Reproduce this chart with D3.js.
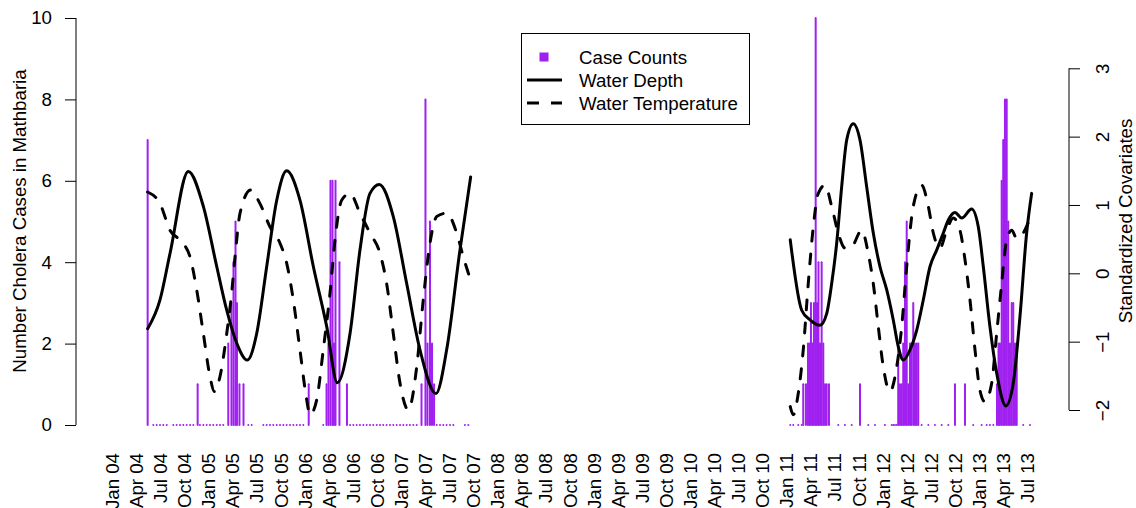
<!DOCTYPE html>
<html>
<head>
<meta charset="utf-8">
<script src="https://cdn.jsdelivr.net/npm/d3@7"></script>
<style>
  body { margin: 0; background: #fff; }
  svg { display: block; font-family: "Liberation Sans", Arial, sans-serif; }
</style>
</head>
<body>
<div id="chart"></div>
<script>
// labels for every quarter on the time axis
var quarterLabels = [
    "Jan 04", "Apr 04", "Jul 04", "Oct 04", "Jan 05", "Apr 05", "Jul 05", "Oct 05",
    "Jan 06", "Apr 06", "Jul 06", "Oct 06", "Jan 07", "Apr 07", "Jul 07", "Oct 07",
    "Jan 08", "Apr 08", "Jul 08", "Oct 08", "Jan 09", "Apr 09", "Jul 09", "Oct 09",
    "Jan 10", "Apr 10", "Jul 10", "Oct 10", "Jan 11", "Apr 11", "Jul 11", "Oct 11",
    "Jan 12", "Apr 12", "Jul 12", "Oct 12", "Jan 13", "Apr 13", "Jul 13"
];

// case counts with at least one case (time as decimal year)
var caseYears = [
    2004.365, 2004.884,
    2005.202, 2005.235, 2005.256, 2005.277, 2005.292, 2005.318, 2005.360,
    2006.037, 2006.222, 2006.242, 2006.263, 2006.284, 2006.299, 2006.315, 2006.356, 2006.434,
    2007.208, 2007.249, 2007.270, 2007.296, 2007.317, 2007.338,
    2011.171, 2011.199, 2011.220, 2011.236, 2011.251, 2011.267, 2011.282, 2011.300,
    2011.314, 2011.329, 2011.345, 2011.362, 2011.379, 2011.397, 2011.414, 2011.438, 2011.760,
    2012.157, 2012.175, 2012.193, 2012.209, 2012.227, 2012.245, 2012.261, 2012.279,
    2012.294, 2012.313, 2012.331, 2012.349, 2012.365, 2012.746, 2012.850,
    2013.182, 2013.198, 2013.213, 2013.231, 2013.247, 2013.265, 2013.283, 2013.299,
    2013.317, 2013.335, 2013.351, 2013.369, 2013.387
];
var caseCounts = [
    7, 1,
    2, 3, 4, 5, 3, 1, 1,
    1, 1, 2, 6, 6, 2, 6, 4, 1,
    1, 8, 2, 5, 2, 1,
    1, 1, 2, 2, 3, 2, 3, 10,
    3, 4, 2, 4, 2, 1, 1, 1, 1,
    2, 1, 1, 2, 4, 5, 1, 2,
    2, 3, 2, 2, 2, 1, 1,
    1, 2, 2, 6, 7, 8, 8, 5,
    2, 3, 3, 2, 2
];

// samples with zero cases
var zeroYears = [
    2004.424, 2004.459, 2004.493, 2004.527, 2004.563, 2004.631, 2004.666, 2004.701,
    2004.735, 2004.770, 2004.805, 2004.839, 2004.908, 2004.943, 2004.978, 2005.012,
    2005.046, 2005.082, 2005.116, 2005.150, 2005.410, 2005.445, 2005.566, 2005.601,
    2005.635, 2005.669, 2005.705, 2005.739, 2005.773, 2005.808, 2005.843, 2005.877,
    2005.912, 2005.946, 2005.981, 2006.188, 2006.466, 2006.500, 2006.535, 2006.569,
    2006.604, 2006.639, 2006.673, 2006.707, 2006.743, 2006.777, 2006.811, 2006.846,
    2006.881, 2006.915, 2006.950, 2006.985, 2007.019, 2007.054, 2007.088, 2007.123,
    2007.158, 2007.366, 2007.400, 2007.434, 2007.469, 2007.504, 2007.538, 2007.659,
    2007.694,
    2011.036, 2011.067, 2011.119, 2011.155, 2011.534, 2011.604, 2011.674, 2011.846,
    2011.916, 2012.019, 2012.089, 2012.105, 2012.123, 2012.141, 2012.400, 2012.469,
    2012.538, 2012.608, 2012.677, 2012.936, 2013.023, 2013.075, 2013.109, 2013.144,
    2013.455, 2013.525
];

// standardized water depth, two observation periods
var depthYears1 = [
    2004.365, 2004.493, 2004.597, 2004.787, 2004.943, 2005.082, 2005.186, 2005.289,
    2005.399, 2005.497, 2005.601, 2005.705, 2005.808, 2005.946, 2006.085, 2006.224,
    2006.334, 2006.466, 2006.569, 2006.673, 2006.770, 2006.915, 2007.054, 2007.192,
    2007.358, 2007.469, 2007.607, 2007.718
];
var depthValues1 = [
    -0.81, -0.39, 0.29, 1.49, 0.98, 0.10, -0.54, -1.02,
    -1.27, -0.88, 0.10, 1.07, 1.50, 1.07, 0.10, -0.78,
    -1.60, -0.88, 0.34, 1.17, 1.30, 0.83, -0.15, -1.12,
    -1.76, -1.12, 0.34, 1.41
];
var depthYears2 = [
    2011.036, 2011.155, 2011.241, 2011.345, 2011.414, 2011.466, 2011.518, 2011.570,
    2011.622, 2011.690, 2011.760, 2011.829, 2011.898, 2011.967, 2012.037, 2012.105,
    2012.157, 2012.209, 2012.279, 2012.349, 2012.417, 2012.487, 2012.556, 2012.625,
    2012.677, 2012.746, 2012.816, 2012.919, 2012.988, 2013.040, 2013.109, 2013.179,
    2013.275, 2013.351, 2013.421, 2013.490, 2013.542
];
var depthValues2 = [
    0.49, -0.54, -0.68, -0.76, -0.59, -0.15, 0.44, 1.27,
    1.95, 2.19, 1.95, 1.27, 0.59, 0.10, -0.24, -0.68,
    -1.07, -1.27, -1.12, -0.83, -0.39, 0.10, 0.34, 0.59,
    0.78, 0.89, 0.81, 0.94, 0.68, 0.10, -0.78, -1.46,
    -1.94, -1.61, -0.63, 0.59, 1.17
];

// standardized water temperature, two observation periods
var tempYears1 = [
    2004.365, 2004.493, 2004.597, 2004.735, 2004.805, 2004.874, 2004.943, 2005.012,
    2005.057, 2005.116, 2005.186, 2005.237, 2005.272, 2005.324, 2005.435, 2005.531,
    2005.635, 2005.739, 2005.808, 2005.877, 2005.946, 2006.016, 2006.050, 2006.120,
    2006.188, 2006.258, 2006.310, 2006.379, 2006.466, 2006.569, 2006.673, 2006.777,
    2006.846, 2006.915, 2006.985, 2007.071, 2007.158, 2007.226, 2007.296, 2007.366,
    2007.469, 2007.573, 2007.642, 2007.718
];
var tempValues1 = [
    1.19, 1.02, 0.63, 0.44, 0.24, -0.24, -0.88, -1.51,
    -1.73, -1.51, -0.88, -0.29, 0.24, 0.88, 1.22, 1.02,
    0.68, 0.44, 0.15, -0.39, -1.12, -1.85, -2.07, -1.85,
    -1.12, -0.29, 0.49, 1.07, 1.17, 0.88, 0.59, 0.29,
    -0.15, -0.88, -1.61, -2.00, -1.37, -0.39, 0.44, 0.83,
    0.88, 0.59, 0.24, -0.10
];
var tempYears2 = [
    2011.036, 2011.067, 2011.119, 2011.171, 2011.223, 2011.275, 2011.327, 2011.397,
    2011.466, 2011.534, 2011.604, 2011.674, 2011.777, 2011.846, 2011.898, 2011.950,
    2012.002, 2012.071, 2012.141, 2012.193, 2012.245, 2012.313, 2012.400, 2012.469,
    2012.521, 2012.590, 2012.660, 2012.728, 2012.798, 2012.850, 2012.902, 2012.954,
    2013.005, 2013.057, 2013.127, 2013.179, 2013.231, 2013.283, 2013.335, 2013.387,
    2013.455, 2013.517
];
var tempValues2 = [
    -1.95, -2.07, -1.76, -1.12, -0.15, 0.68, 1.17, 1.29,
    0.98, 0.59, 0.37, 0.39, 0.63, 0.29, -0.15, -0.78,
    -1.37, -1.73, -1.37, -0.78, 0.10, 0.98, 1.29, 0.98,
    0.59, 0.37, 0.63, 0.81, 0.63, 0.20, -0.39, -1.12,
    -1.71, -1.88, -1.61, -0.88, -0.15, 0.49, 0.63, 0.51,
    0.59, 0.78
];

var legendLabels = ["Case Counts", "Water Depth", "Water Temperature"];

var width = 1136, height = 508;
var purple = "#a020f0";

var svg = d3.select("#chart")
    .append("svg")
        .attr("width", width)
        .attr("height", height);

// scales
var x = d3.scaleLinear()
    .domain([2004, 2013.5])
    .range([112.5, 1027.6]);

var yCases = d3.scaleLinear()
    .domain([0, 10])
    .range([425, 18]);

var yCov = d3.scaleLinear()
    .domain([-2, 3])
    .range([410, 68.3]);

// case count bars (zero counts show up as dots)
var cases = caseYears.map(function(d, i) { return {year: d, count: caseCounts[i]}; })
    .concat(zeroYears.map(function(d) { return {year: d, count: 0}; }));

svg.append("g")
    .selectAll("line")
    .data(cases)
    .enter()
    .append("line")
        .attr("x1", function(d) { return x(d.year); })
        .attr("x2", function(d) { return x(d.year); })
        .attr("y1", yCases(0))
        .attr("y2", function(d) { return yCases(d.count); })
        .attr("stroke", purple)
        .attr("stroke-width", 2)
        .attr("stroke-linecap", "round");

// covariate lines
var line = d3.line()
    .x(function(d) { return x(d[0]); })
    .y(function(d) { return yCov(d[1]); })
    .curve(d3.curveMonotoneX);

function zip(a, b) { return a.map(function(d, i) { return [d, b[i]]; }); }

var series = [
    {pts: zip(depthYears1, depthValues1), dash: null},
    {pts: zip(depthYears2, depthValues2), dash: null},
    {pts: zip(tempYears1, tempValues1), dash: "10,13"},
    {pts: zip(tempYears2, tempValues2), dash: "10,13"}
];

svg.selectAll("covLines")
    .data(series)
    .enter()
    .append("path")
        .attr("d", function(d) { return line(d.pts); })
        .attr("fill", "none")
        .attr("stroke", "#000")
        .attr("stroke-width", 3)
        .attr("stroke-linecap", "round")
        .attr("stroke-dasharray", function(d) { return d.dash; });

// left axis
var left = svg.append("g").attr("transform", "translate(76,0)")
    .call(d3.axisLeft(yCases).tickValues([0, 2, 4, 6, 8, 10]).tickSize(11).tickPadding(13));
left.select(".domain").attr("d", "M0," + yCases(0) + "V" + yCases(10));

// right axis
var right = svg.append("g").attr("transform", "translate(1069,0)")
    .call(d3.axisRight(yCov).tickValues([-2, -1, 0, 1, 2, 3]).tickSize(11)
        .tickFormat(function(d) { return d < 0 ? "\u2212" + Math.abs(d) : d; }));
right.select(".domain").attr("d", "M0," + yCov(-2) + "V" + yCov(3));
right.selectAll(".tick text")
    .attr("x", 0).attr("dy", null)
    .attr("text-anchor", "middle")
    .attr("transform", "translate(40,0) rotate(-90)");

svg.selectAll(".tick text").attr("font-size", 18.7).attr("fill", "#000")
    .style("font-family", "'Liberation Sans', Arial, sans-serif");
svg.selectAll(".domain, .tick line").attr("stroke", "#000").attr("stroke-width", 1);

// bottom labels, rotated, no axis line
svg.append("g")
    .selectAll("text")
    .data(quarterLabels)
    .enter()
    .append("text")
        .attr("transform", function(d, i) {
            return "translate(" + (x(2004 + i / 4) + 6.5) + ",453) rotate(-90)";
        })
        .attr("text-anchor", "end")
        .attr("font-size", 18.7)
        .text(function(d) { return d; });

// axis titles
svg.append("text")
    .attr("transform", "translate(26,221) rotate(-90)")
    .attr("text-anchor", "middle")
    .attr("font-size", 18.7)
    .text("Number Cholera Cases in Mathbaria");

svg.append("text")
    .attr("transform", "translate(1131.5,221) rotate(-90)")
    .attr("text-anchor", "middle")
    .attr("font-size", 18.7)
    .text("Standardized Covariates");

// legend
var legend = svg.append("g");
legend.append("rect")
    .attr("x", 521.5).attr("y", 33.5)
    .attr("width", 228).attr("height", 91)
    .attr("fill", "#fff").attr("stroke", "#000");

legend.append("rect")
    .attr("x", 539.5).attr("y", 52.5).attr("width", 9).attr("height", 9)
    .attr("fill", purple);
legend.append("line")
    .attr("x1", 527).attr("x2", 562).attr("y1", 80).attr("y2", 80)
    .attr("stroke", "#000").attr("stroke-width", 3);
legend.append("line")
    .attr("x1", 527).attr("x2", 562).attr("y1", 103).attr("y2", 103)
    .attr("stroke", "#000").attr("stroke-width", 3)
    .attr("stroke-dasharray", "12,12");

legend.selectAll("legendText")
    .data(legendLabels)
    .enter()
    .append("text")
        .attr("x", 579)
        .attr("y", function(d, i) { return 57 + i * 23.2; })
        .attr("dy", "0.35em")
        .attr("font-size", 18.7)
        .text(function(d) { return d; });
</script>
</body>
</html>
